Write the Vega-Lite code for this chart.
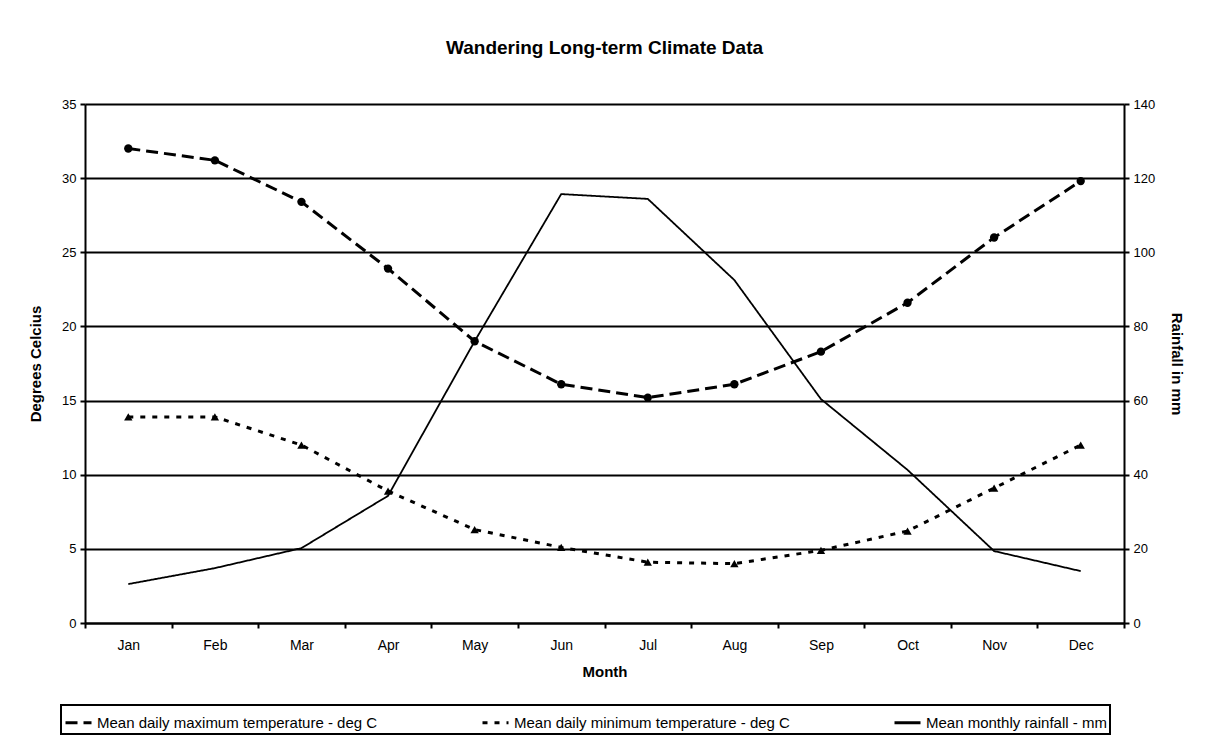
{
  "$schema": "https://vega.github.io/schema/vega-lite/v6.json",
  "width": 1039,
  "height": 519,
  "autosize": {"type": "none"},
  "padding": {"left": 85, "top": 104, "right": 84, "bottom": 117},
  "background": "white",
  "title": {"text": "Wandering Long-term Climate Data", "fontSize": 19, "font": "Liberation Sans", "fontWeight": "bold", "anchor": "middle", "offset": 40, "color": "black"},
  "config": {
    "view": {"stroke": null},
    "axis": {"labelFont": "Liberation Sans", "labelFontSize": 13, "labelColor": "black", "titleFont": "Liberation Sans", "titleFontSize": 15, "titleFontWeight": "bold", "titleColor": "black", "domainColor": "black", "domainWidth": 2, "tickColor": "black", "tickWidth": 2, "tickSize": 5}
  },
  "data": {"values": [
    {"month": "Jan", "series": "Mean daily maximum temperature - deg C", "value": 32.0},
    {"month": "Feb", "series": "Mean daily maximum temperature - deg C", "value": 31.2},
    {"month": "Mar", "series": "Mean daily maximum temperature - deg C", "value": 28.4},
    {"month": "Apr", "series": "Mean daily maximum temperature - deg C", "value": 23.9},
    {"month": "May", "series": "Mean daily maximum temperature - deg C", "value": 19.0},
    {"month": "Jun", "series": "Mean daily maximum temperature - deg C", "value": 16.1},
    {"month": "Jul", "series": "Mean daily maximum temperature - deg C", "value": 15.2},
    {"month": "Aug", "series": "Mean daily maximum temperature - deg C", "value": 16.1},
    {"month": "Sep", "series": "Mean daily maximum temperature - deg C", "value": 18.3},
    {"month": "Oct", "series": "Mean daily maximum temperature - deg C", "value": 21.6},
    {"month": "Nov", "series": "Mean daily maximum temperature - deg C", "value": 26.0},
    {"month": "Dec", "series": "Mean daily maximum temperature - deg C", "value": 29.8},
    {"month": "Jan", "series": "Mean daily minimum temperature - deg C", "value": 13.9},
    {"month": "Feb", "series": "Mean daily minimum temperature - deg C", "value": 13.9},
    {"month": "Mar", "series": "Mean daily minimum temperature - deg C", "value": 12.0},
    {"month": "Apr", "series": "Mean daily minimum temperature - deg C", "value": 8.9},
    {"month": "May", "series": "Mean daily minimum temperature - deg C", "value": 6.3},
    {"month": "Jun", "series": "Mean daily minimum temperature - deg C", "value": 5.1},
    {"month": "Jul", "series": "Mean daily minimum temperature - deg C", "value": 4.1},
    {"month": "Aug", "series": "Mean daily minimum temperature - deg C", "value": 4.0},
    {"month": "Sep", "series": "Mean daily minimum temperature - deg C", "value": 4.9},
    {"month": "Oct", "series": "Mean daily minimum temperature - deg C", "value": 6.2},
    {"month": "Nov", "series": "Mean daily minimum temperature - deg C", "value": 9.1},
    {"month": "Dec", "series": "Mean daily minimum temperature - deg C", "value": 12.0},
    {"month": "Jan", "series": "Mean monthly rainfall - mm", "value": 10.5},
    {"month": "Feb", "series": "Mean monthly rainfall - mm", "value": 14.8},
    {"month": "Mar", "series": "Mean monthly rainfall - mm", "value": 20.2},
    {"month": "Apr", "series": "Mean monthly rainfall - mm", "value": 34.3},
    {"month": "May", "series": "Mean monthly rainfall - mm", "value": 76.0},
    {"month": "Jun", "series": "Mean monthly rainfall - mm", "value": 115.7},
    {"month": "Jul", "series": "Mean monthly rainfall - mm", "value": 114.4},
    {"month": "Aug", "series": "Mean monthly rainfall - mm", "value": 92.5},
    {"month": "Sep", "series": "Mean monthly rainfall - mm", "value": 60.4},
    {"month": "Oct", "series": "Mean monthly rainfall - mm", "value": 41.3},
    {"month": "Nov", "series": "Mean monthly rainfall - mm", "value": 19.4},
    {"month": "Dec", "series": "Mean monthly rainfall - mm", "value": 14.0}
  ]},
  "encoding": {
    "x": {
      "field": "month", "type": "ordinal", "bandPosition": 0.5,
      "sort": ["Jan","Feb","Mar","Apr","May","Jun","Jul","Aug","Sep","Oct","Nov","Dec"],
      "scale": {"type": "band", "paddingInner": 0, "paddingOuter": 0},
      "axis": {"title": "Month", "labelAngle": 0, "tickBand": "extent", "labelPadding": 10, "titlePadding": 12, "grid": false, "labelFontSize": 14}
    }
  },
  "layer": [
    {
      "layer": [
        {
          "transform": [{"filter": "datum.series !== 'Mean monthly rainfall - mm'"}],
          "mark": {"type": "line", "color": "black", "strokeWidth": 3},
          "encoding": {
            "y": {"field": "value", "type": "quantitative", "scale": {"domain": [0, 35], "nice": false},
              "axis": {"title": "Degrees Celcius", "values": [0,5,10,15,20,25,30,35], "grid": true, "gridColor": "black", "gridWidth": 2, "gridOpacity": 1, "titlePadding": 18, "labelPadding": 4}},
            "strokeDash": {"field": "series", "type": "nominal",
              "scale": {"domain": ["Mean daily maximum temperature - deg C", "Mean daily minimum temperature - deg C", "Mean monthly rainfall - mm"], "range": [[12, 6], [5, 7], [1, 0]]},
              "legend": {"title": null, "orient": "none", "legendX": -24, "legendY": 601, "direction": "horizontal", "strokeColor": "black", "padding": 3, "labelFont": "Liberation Sans", "labelFontSize": 15, "labelColor": "black", "symbolType": "stroke", "symbolStrokeColor": "black", "symbolStrokeWidth": 3, "symbolSize": 676, "columnPadding": 98, "labelLimit": 400, "labelOffset": 4,
                "encode": {"legend": {"update": {"strokeWidth": {"value": 2}}}}}}
          }
        },
        {
          "transform": [{"filter": "datum.series !== 'Mean monthly rainfall - mm'"}],
          "mark": {"type": "point", "filled": true, "color": "black", "opacity": 1, "size": 70},
          "encoding": {
            "y": {"field": "value", "type": "quantitative"},
            "shape": {"field": "series", "type": "nominal", "scale": {"domain": ["Mean daily maximum temperature - deg C", "Mean daily minimum temperature - deg C"], "range": ["circle", "triangle-up"]}, "legend": null}
          }
        }
      ]
    },
    {
      "transform": [{"filter": "datum.series === 'Mean monthly rainfall - mm'"}],
      "mark": {"type": "line", "color": "black", "strokeWidth": 1.8},
      "encoding": {
        "y": {"field": "value", "type": "quantitative", "scale": {"domain": [0, 140], "nice": false},
          "axis": {"orient": "right", "title": "Rainfall in mm", "values": [0,20,40,60,80,100,120,140], "grid": false, "titlePadding": 14, "labelPadding": 4}},
        "strokeDash": {"field": "series", "type": "nominal"}
      }
    }
  ],
  "resolve": {"scale": {"y": "independent"}}
}
